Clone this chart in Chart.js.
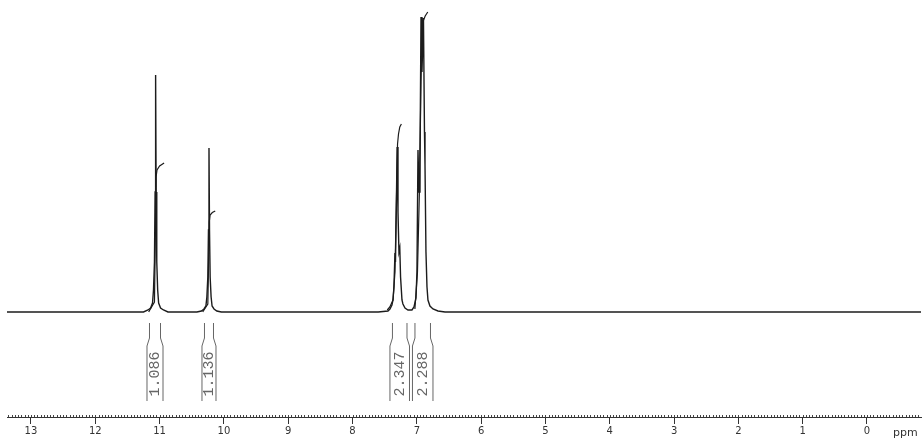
<!DOCTYPE html>
<html>
<head>
<meta charset="utf-8">
<script src="https://cdn.jsdelivr.net/npm/chart.js@4.4.1/dist/chart.umd.min.js"></script>
<style>
  html, body { margin: 0; padding: 0; background: #fff; }
  canvas { display: block; }
</style>
</head>
<body>
<canvas id="c" width="922" height="440"></canvas>
<script>
// ---- Spectrum (chemical shift in ppm, intensity in arbitrary units) ----
const specPpm = [13.40, 11.25, 11.18, 11.14, 11.11, 11.095, 11.08, 11.07, 11.062, 11.054, 11.044, 11.03, 11.015, 10.985, 10.94, 10.87,
  10.42, 10.35, 10.31, 10.28, 10.265, 10.25, 10.24, 10.232, 10.224, 10.214, 10.199, 10.184, 10.154, 10.11, 10.04,
  7.60, 7.449, 7.418, 7.387, 7.371, 7.356, 7.340, 7.332, 7.320, 7.306, 7.293, 7.278, 7.265, 7.253, 7.231, 7.216, 7.184, 7.138,
  7.076, 7.044, 7.013, 6.998, 6.982, 6.966, 6.951, 6.935, 6.920, 6.897, 6.881, 6.873, 6.858, 6.842, 6.827, 6.796, 6.749, 6.671, 6.562, -0.90];
const specInt = [0, 0, 2, 4, 9, 22, 50, 120, 237, 120, 50, 22, 9, 4, 2, 0,
  0, 1, 3, 6, 15, 35, 82, 164, 82, 35, 15, 6, 3, 1, 0,
  0, 1, 3, 7, 12, 25, 59, 50, 100, 165, 100, 60, 64, 35, 12, 8, 4, 2,
  2, 5, 14, 40, 162, 120, 150, 295, 240, 294, 180, 147, 60, 25, 12, 6, 3, 1, 0, 0];

// ---- Integral curves ----
const int1Ppm = [11.17, 11.08, 11.065, 11.055, 11.04, 11.00, 10.93];
const int1Val = [0, 10, 80, 135, 142, 146, 149];
const int2Ppm = [10.33, 10.25, 10.238, 10.228, 10.215, 10.18, 10.135];
const int2Val = [0, 8, 50, 90, 97, 99.5, 101];
const int3Ppm = [7.46, 7.42, 7.37, 7.34, 7.315, 7.30, 7.285, 7.265, 7.24];
const int3Val = [2, 5, 12, 40, 120, 168, 178, 185, 188];
const int4Ppm = [7.03, 6.99, 6.96, 6.935, 6.915, 6.895, 6.87, 6.83];
const int4Val = [3, 40, 120, 230, 285, 292, 296, 300];

// ---- Integration regions and values ----
const regionFrom = [11.196, 10.341, 7.418, 7.068];
const regionTo = [10.947, 10.123, 7.114, 6.749];
const regionLabel = ['1.086', '1.136', '2.347', '2.288'];

// ---- Axis ticks ----
const xTickValues = [13, 12, 11, 10, 9, 8, 7, 6, 5, 4, 3, 2, 1, 0];
const xUnitLabel = 'ppm';

function pts(xs, ys) { return xs.map((x, i) => ({ x: x, y: ys[i] })); }

const lineStyle = { borderColor: '#1c1c1c', borderWidth: 1.4, pointRadius: 0, tension: 0, fill: false };

const nmrDecor = {
  id: 'nmrDecor',
  afterDraw(chart) {
    const ctx = chart.ctx;
    const xs = chart.scales.x;
    const axisY = chart.chartArea.bottom;
    ctx.save();
    // minor ticks every 0.05 ppm
    ctx.strokeStyle = '#444';
    ctx.lineWidth = 1;
    ctx.beginPath();
    for (let k = -16; k <= 267; k++) {
      const v = k * 0.05;
      const px = Math.round(xs.getPixelForValue(v)) + 0.5;
      if (px < chart.chartArea.left || px > chart.chartArea.right) continue;
      ctx.moveTo(px, axisY - 2);
      ctx.lineTo(px, axisY);
    }
    ctx.stroke();
    // unit label
    ctx.fillStyle = '#333';
    ctx.font = '11px "DejaVu Sans"';
    ctx.textAlign = 'left';
    ctx.textBaseline = 'middle';
    ctx.fillText(xUnitLabel, 893, 433);
    // integral brackets and values
    ctx.strokeStyle = '#666';
    ctx.lineWidth = 1;
    for (let i = 0; i < regionFrom.length; i++) {
      const xa = xs.getPixelForValue(regionFrom[i]);
      const xb = xs.getPixelForValue(regionTo[i]);
      ctx.beginPath();
      ctx.moveTo(xa + 2.5, 323); ctx.lineTo(xa + 2.5, 338); ctx.lineTo(xa, 346); ctx.lineTo(xa, 401);
      ctx.moveTo(xb - 2.5, 323); ctx.lineTo(xb - 2.5, 338); ctx.lineTo(xb, 346); ctx.lineTo(xb, 401);
      ctx.stroke();
      ctx.save();
      ctx.translate((xa + xb) / 2, 374);
      ctx.rotate(-Math.PI / 2);
      ctx.fillStyle = '#666';
      ctx.font = '15px "Liberation Mono"';
      ctx.textAlign = 'center';
      ctx.textBaseline = 'middle';
      ctx.fillText(regionLabel[i], 0, 0);
      ctx.restore();
    }
    ctx.restore();
  }
};

new Chart(document.getElementById('c'), {
  type: 'line',
  data: {
    datasets: [
      Object.assign({ data: pts(specPpm, specInt) }, lineStyle),
      Object.assign({ data: pts(int1Ppm, int1Val) }, lineStyle, { borderWidth: 1.2 }),
      Object.assign({ data: pts(int2Ppm, int2Val) }, lineStyle, { borderWidth: 1.2 }),
      Object.assign({ data: pts(int3Ppm, int3Val) }, lineStyle, { borderWidth: 1.2 }),
      Object.assign({ data: pts(int4Ppm, int4Val) }, lineStyle, { borderWidth: 1.2 })
    ]
  },
  options: {
    responsive: false,
    animation: false,
    layout: { padding: { left: 7, right: 1, top: 0, bottom: 0 } },
    plugins: { legend: { display: false }, tooltip: { enabled: false } },
    scales: {
      x: {
        type: 'linear',
        reverse: true,
        min: -0.84,
        max: 13.373,
        afterBuildTicks: (axis) => { axis.ticks = xTickValues.map(v => ({ value: v })); },
        afterFit: (axis) => { axis.height = 23; },
        grid: { drawOnChartArea: false, drawTicks: true, tickLength: 7, color: '#333', lineWidth: 1 },
        border: { display: true, color: '#333', width: 1 },
        ticks: { color: '#333', font: { family: 'DejaVu Sans', size: 10 }, padding: 1, maxRotation: 0, autoSkip: false }
      },
      y: { display: false, min: -105, max: 312 }
    }
  },
  plugins: [nmrDecor]
});
</script>
</body>
</html>
